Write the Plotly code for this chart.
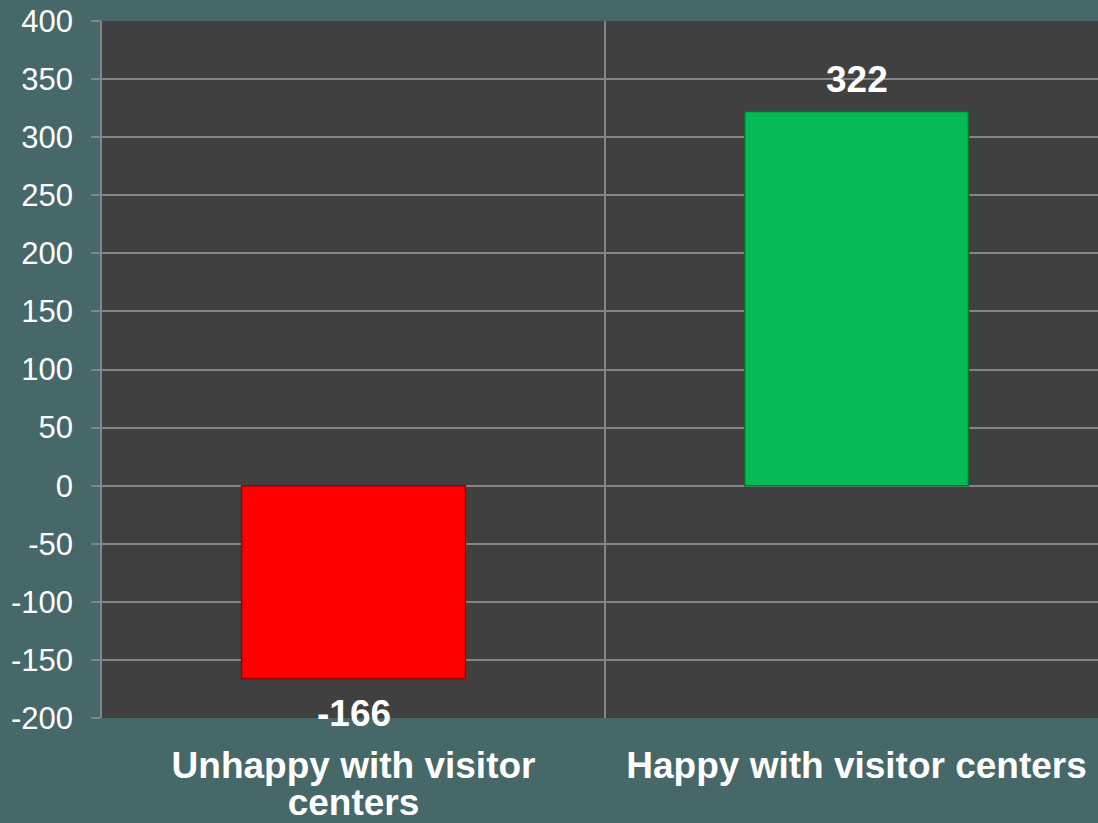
import plotly.graph_objects as go

categories = ["Unhappy with visitor<br>centers", "Happy with visitor centers"]
values = [-166, 322]
bar_colors = ["#FF0000", "#06BA56"]
border_colors = ["#9A0000", "#046E33"]
y_ticks = list(range(-200, 401, 50))

label_font = dict(family="Arial, Liberation Sans", size=37, color="white", weight="bold")

fig = go.Figure(
    go.Bar(
        x=categories,
        y=values,
        width=0.445,
        marker=dict(color=bar_colors, line=dict(color=border_colors, width=1.5)),
        hoverinfo="skip",
    )
)

# data labels, anchored to each bar's value through the axes
for cat, v in zip(categories, values):
    fig.add_annotation(
        x=cat,
        y=v,
        xref="x",
        yref="y",
        text=str(v),
        showarrow=False,
        font=label_font,
        yanchor="bottom" if v >= 0 else "top",
        yshift=10 if v >= 0 else -12,
    )

fig.update_layout(
    width=1098,
    height=823,
    margin=dict(l=102, r=0, t=21, b=103),
    paper_bgcolor="#466868",
    plot_bgcolor="#404040",
    showlegend=False,
    font=dict(family="Arial, Liberation Sans", color="white"),
)

fig.update_yaxes(
    range=[-200, 400],
    tickvals=y_ticks,
    ticktext=[str(t) for t in y_ticks],
    tickfont=dict(family="Arial, Liberation Sans", size=31, color="white"),
    showgrid=True,
    gridcolor="#858585",
    gridwidth=1.5,
    zeroline=False,
    showline=True,
    linecolor="#858585",
    linewidth=1.5,
    ticks="outside",
    ticklen=9,
    tickcolor="#858585",
    tickwidth=1.5,
    ticklabelstandoff=12,
)

fig.update_xaxes(
    type="category",
    range=[-0.5, 1.48],
    tickvals=categories,
    ticktext=['<span style="font-size:37px">' + c + "</span>" for c in categories],
    tickson="boundaries",
    showgrid=True,
    gridcolor="#858585",
    gridwidth=1.5,
    showline=False,
    ticks="",
    tickfont=dict(family="Arial, Liberation Sans", size=28.5, color="white", weight="bold"),
    ticklabelstandoff=30,
)

fig.write_html(
    "out.html",
    config={"displayModeBar": False},
    post_script="document.body.style.margin='0';document.body.style.padding='0';document.body.style.overflow='hidden';",
)
